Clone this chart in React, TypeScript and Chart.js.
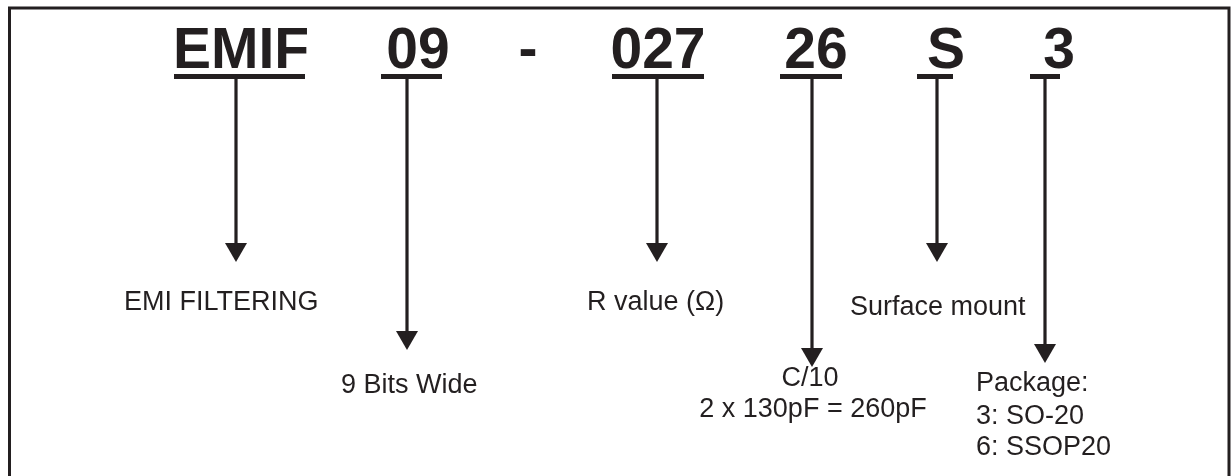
import React, { useEffect, useRef } from "react";
import { Chart, registerables } from "chart.js";

Chart.register(...registerables);

// Part number segments (heading)
const codes = ["EMIF", "09", "-", "027", "26", "S", "3"];
const codeX = [241, 418, 528, 658, 816, 946, 1059];
const codeBaseline = 68;

// Underlines and arrows for each segment (null = none, e.g. the dash)
const underlineStart = [174, 381, null, 612, 780, 917, 1030];
const underlineEnd = [305, 442, null, 704, 842, 953, 1060];
const underlineY = 76.5;
const stemX = [236, 407, null, 657, 812, 937, 1045];
const arrowTipY = [262, 350, null, 262, 367, 262, 363];

// Descriptions (one entry per text line)
const descText = [
  "EMI FILTERING",
  "9 Bits Wide",
  "R value (\u03A9)",
  "C/10",
  "2 x 130pF = 260pF",
  "Surface mount",
  "Package:",
  "3: SO-20",
  "6: SSOP20",
];
const descX = [124, 341, 587, 810, 813, 850, 976, 976, 976];
const descY = [310, 393, 310, 386, 417, 315, 391, 424, 455];
const descAlign = ["left", "left", "left", "center", "center", "left", "left", "left", "left"];

// Frame
const frameX = [9.5, 9.5, 1229, 1229];
const frameY = [490, 8, 8, 490];

const INK = "#231f20";
const HEAD_R = 12.7;

export default function App() {
  const ref = useRef<HTMLCanvasElement | null>(null);

  useEffect(() => {
    const canvas = ref.current;
    if (!canvas) return;
    const datasets: any[] = [];

    datasets.push({
      data: frameX.map((x, i) => ({ x, y: frameY[i] })),
      showLine: true,
      borderColor: INK,
      borderWidth: 3,
      pointRadius: 0,
      fill: false,
    });

    codes.forEach((_, i) => {
      const s = underlineStart[i];
      const e = underlineEnd[i];
      if (s !== null && e !== null) {
        datasets.push({
          data: [
            { x: s, y: underlineY },
            { x: e, y: underlineY },
          ],
          showLine: true,
          borderColor: INK,
          borderWidth: 5,
          borderCapStyle: "butt",
          pointRadius: 0,
        });
      }
      const sx = stemX[i];
      const ty = arrowTipY[i];
      if (sx !== null && ty !== null) {
        datasets.push({
          data: [
            { x: sx, y: underlineY },
            { x: sx, y: ty - HEAD_R },
          ],
          showLine: true,
          borderColor: INK,
          borderWidth: 3.2,
          borderCapStyle: "butt",
          pointRadius: 0,
        });
        datasets.push({
          data: [{ x: sx, y: ty - HEAD_R }],
          showLine: false,
          pointStyle: "triangle",
          rotation: 180,
          pointRadius: HEAD_R,
          pointBackgroundColor: INK,
          pointBorderColor: INK,
          pointBorderWidth: 0,
        });
      }
    });

    const textPlugin = {
      id: "diagramText",
      afterDatasetsDraw(chart: any) {
        const ctx = chart.ctx;
        const xs = chart.scales.x;
        const ys = chart.scales.y;
        ctx.save();
        ctx.fillStyle = INK;
        ctx.textBaseline = "alphabetic";
        ctx.font = "bold 57px 'Liberation Sans', Arial, sans-serif";
        ctx.textAlign = "center";
        codes.forEach((c, i) => {
          ctx.fillText(c, xs.getPixelForValue(codeX[i]), ys.getPixelForValue(codeBaseline));
        });
        ctx.font = "27px 'Liberation Sans', Arial, sans-serif";
        descText.forEach((t, i) => {
          ctx.textAlign = descAlign[i];
          ctx.fillText(t, xs.getPixelForValue(descX[i]), ys.getPixelForValue(descY[i]));
        });
        ctx.restore();
      },
    };

    const chart = new Chart(canvas, {
      type: "scatter",
      data: { datasets },
      options: {
        animation: false,
        responsive: false,
        maintainAspectRatio: false,
        layout: { padding: 0, autoPadding: false },
        events: [],
        plugins: {
          legend: { display: false },
          tooltip: { enabled: false },
        },
        scales: {
          x: { type: "linear", min: 0, max: 1231, display: false },
          y: { type: "linear", min: 0, max: 476, reverse: true, display: false },
        },
      },
      plugins: [textPlugin],
    });
    return () => chart.destroy();
  }, []);

  return (
    <div style={{ position: "absolute", left: 0, top: 0, width: 1231, height: 476, background: "#fff" }}>
      <canvas ref={ref} width={1231} height={476} style={{ display: "block" }} />
    </div>
  );
}
